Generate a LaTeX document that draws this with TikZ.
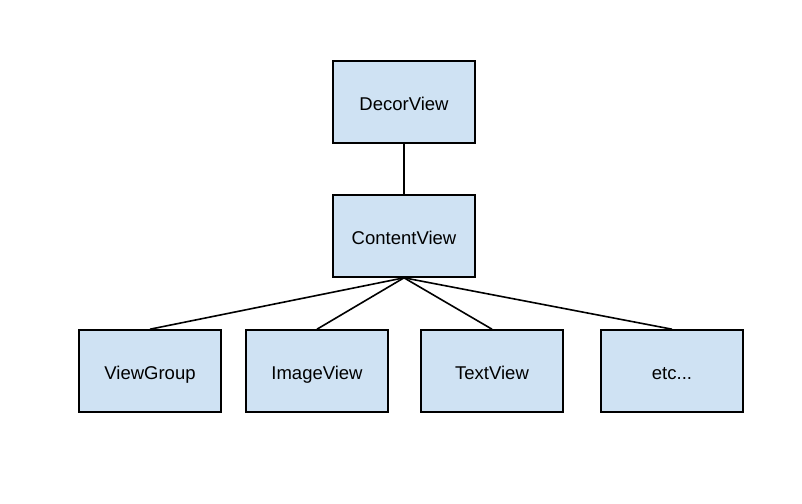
\documentclass[tikz,border=0pt]{standalone}
\usepackage{fontspec}
\setmainfont{Liberation Sans}
\usepackage{xcolor}
\definecolor{viewblue}{HTML}{CFE2F3}

\begin{document}
\begin{tikzpicture}[x=1pt,y=-1pt,
    viewbox/.style={draw=black, line width=1.6pt, fill=viewblue, minimum width=142pt, minimum height=82pt, text height=18pt, text depth=2pt, font=\fontsize{18.5}{20}\selectfont}]
    \useasboundingbox (0,0) rectangle (802,503);

    \node[viewbox] (decor) at (404,102) {DecorView};
    \node[viewbox] (content) at (404,236) {ContentView};

    \node[viewbox] (group) at (150,371) {ViewGroup};
    \node[viewbox] (image) at (317,371) {ImageView};
    \node[viewbox] (text) at (492,371) {TextView};
    \node[viewbox] (etc) at (672,371) {etc...};

    \draw[line width=1.6pt] (decor.south) -- (content.north);
    \foreach \child in {group,image,text,etc}
        \draw[line width=1.6pt] (content.south) -- (\child.north);
\end{tikzpicture}
\end{document}
